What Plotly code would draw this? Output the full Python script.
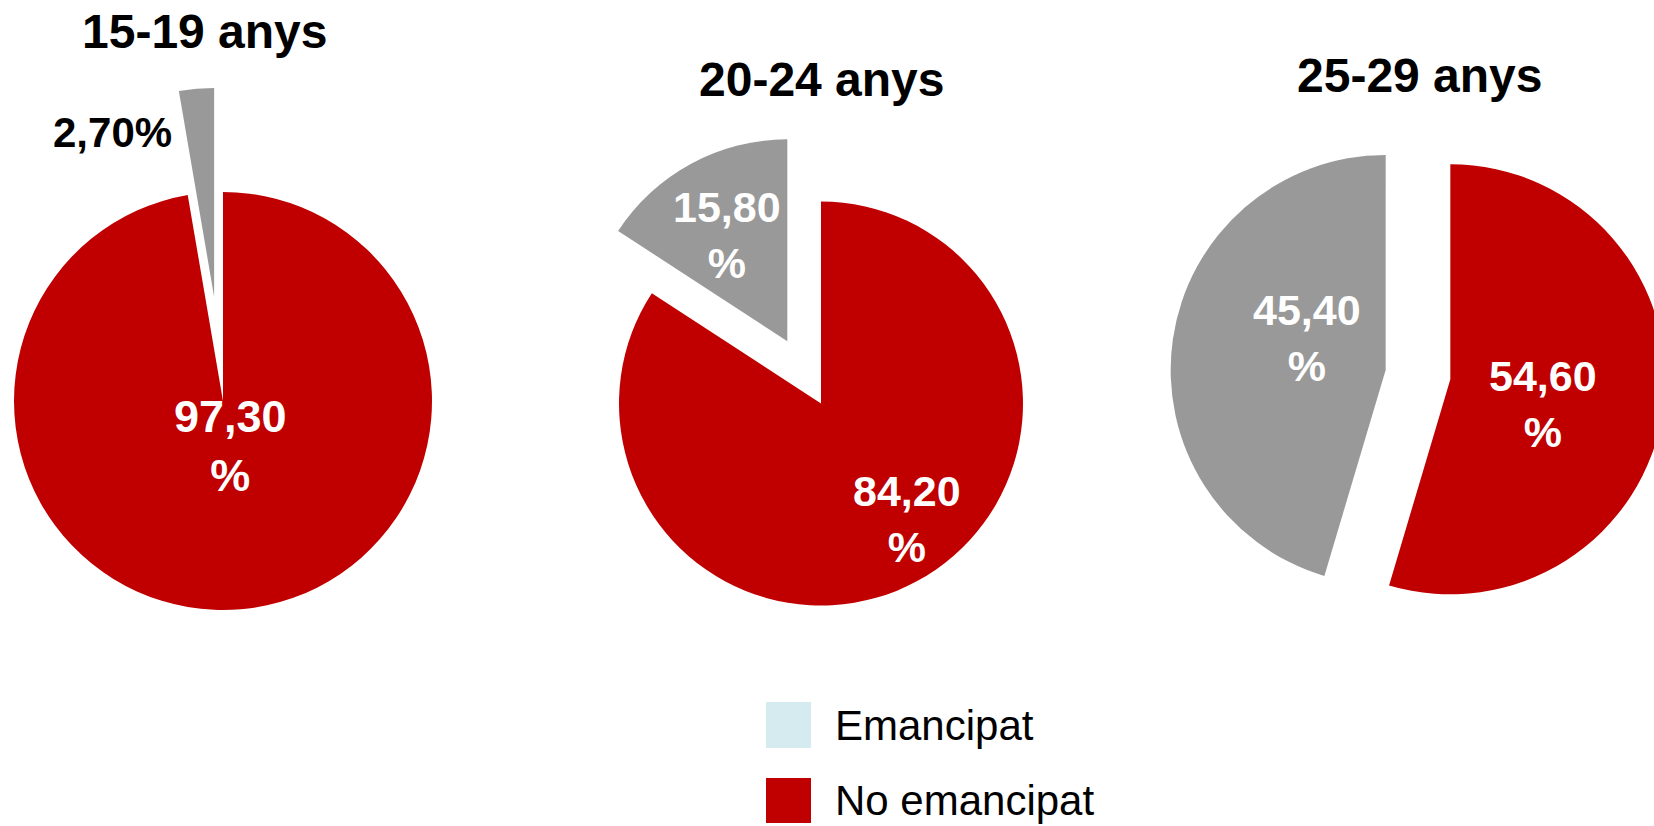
import math
import plotly.graph_objects as go

# ---------------- data ----------------
groups = ["15-19 anys", "20-24 anys", "25-29 anys"]
categories = ["Emancipat", "No emancipat"]
emancipat = [2.70, 15.80, 45.40]
no_emancipat = [97.30, 84.20, 54.60]

# ---------------- styles / layout ----------------
W, H = 1670, 826          # figure slightly wider than the 1654 px window (right pie is cut off)
RED = "#C00000"
GREY = "#999999"
LEGEND_BLUE = "#D6EBEF"
CLEAR = "rgba(0,0,0,0)"
FONT = "Liberation Sans, Arial, sans-serif"

# base centre (px), radius (px), pull of grey slice, pull of red slice
pies = [
    dict(c=(223, 401), r=209, pull_g=0.50, pull_r=0.0),
    dict(c=(821, 403.5), r=202, pull_g=0.35, pull_r=0.0),
    dict(c=(1418, 374.6), r=215, pull_g=0.152, pull_r=0.152),
]
title_pos = [(205, 32), (822, 79), (1420, 76)]
# label block centres (px)
lab_red = [(230, 446), (907, 519), (1543, 404)]
lab_grey = [(112, 132), (727, 235), (1307, 338)]
lab_red_size = [45, 43, 43]
grey_inside = [False, True, True]


def fmt(v):
    return f"{v:.2f}".replace(".", ",")


def dom(cx, cy, r):
    return dict(x=[max(0, (cx - r) / W), min(1, (cx + r) / W)],
                y=[max(0, 1 - (cy + r) / H), min(1, 1 - (cy - r) / H)])


fig = go.Figure()
annotations = []
for i, g in enumerate(groups):
    p = pies[i]
    cx, cy = p["c"]
    r = p["r"]
    vals = [no_emancipat[i], emancipat[i]]
    tot = sum(vals)
    # red slice: clockwise from 12 o'clock; grey: the rest
    mid_red = 2 * math.pi * (vals[0] / 2) / tot
    mid_grey = 2 * math.pi * (vals[0] + vals[1] / 2) / tot
    dr = p["pull_r"] * r
    dg = p["pull_g"] * r
    red_c = (cx + dr * math.sin(mid_red), cy - dr * math.cos(mid_red))
    grey_c = (cx + dg * math.sin(mid_grey), cy - dg * math.cos(mid_grey))
    for centre, cols in ((red_c, [RED, CLEAR]), (grey_c, [CLEAR, GREY])):
        fig.add_trace(go.Pie(
            labels=["No emancipat", "Emancipat"], values=vals,
            sort=False, direction="clockwise", rotation=0,
            marker=dict(colors=cols, line=dict(width=0)),
            textinfo="none", hoverinfo="skip", showlegend=False,
            domain=dom(centre[0], centre[1], r),
        ))
    # titles
    annotations.append(dict(
        text=f"<b>{g}</b>", x=title_pos[i][0] / W, y=1 - title_pos[i][1] / H,
        xref="paper", yref="paper", showarrow=False, xanchor="center", yanchor="middle",
        font=dict(family=FONT, size=48, color="black")))
    # value labels
    annotations.append(dict(
        text=f"<b>{fmt(no_emancipat[i])}<br>%</b>", x=lab_red[i][0] / W, y=1 - lab_red[i][1] / H,
        xref="paper", yref="paper", showarrow=False, xanchor="center", yanchor="middle",
        font=dict(family=FONT, size=lab_red_size[i], color="white")))
    gtxt = f"<b>{fmt(emancipat[i])}<br>%</b>" if grey_inside[i] else f"<b>{fmt(emancipat[i])}%</b>"
    annotations.append(dict(
        text=gtxt, x=lab_grey[i][0] / W, y=1 - lab_grey[i][1] / H,
        xref="paper", yref="paper", showarrow=False, xanchor="center", yanchor="middle",
        font=dict(family=FONT, size=43 if grey_inside[i] else 42,
                  color="white" if grey_inside[i] else "black")))

# legend (swatches + labels)
legend_colors = [LEGEND_BLUE, RED]
legend_rows = [(702, 748, 725), (778, 823, 800)]
shapes = []
for cat, col, (y0, y1, yt) in zip(categories, legend_colors, legend_rows):
    shapes.append(dict(type="rect", xref="paper", yref="paper",
                       x0=766 / W, x1=811 / W, y0=1 - y1 / H, y1=1 - y0 / H,
                       fillcolor=col, line=dict(width=0)))
    annotations.append(dict(
        text=cat, x=833 / W, y=1 - yt / H, xref="paper", yref="paper",
        showarrow=False, xanchor="left", yanchor="middle",
        font=dict(family=FONT, size=42, color="black")))

fig.update_layout(
    width=W, height=H, autosize=False,
    margin=dict(l=0, r=0, t=0, b=0),
    paper_bgcolor="white", plot_bgcolor="white",
    annotations=annotations, shapes=shapes,
    showlegend=False,
)
fig.write_html(
    "out.html",
    config={"displayModeBar": False},
    post_script="document.body.style.margin='0';"
                "document.body.style.overflow='hidden';"
                "document.documentElement.style.overflow='hidden';",
)
